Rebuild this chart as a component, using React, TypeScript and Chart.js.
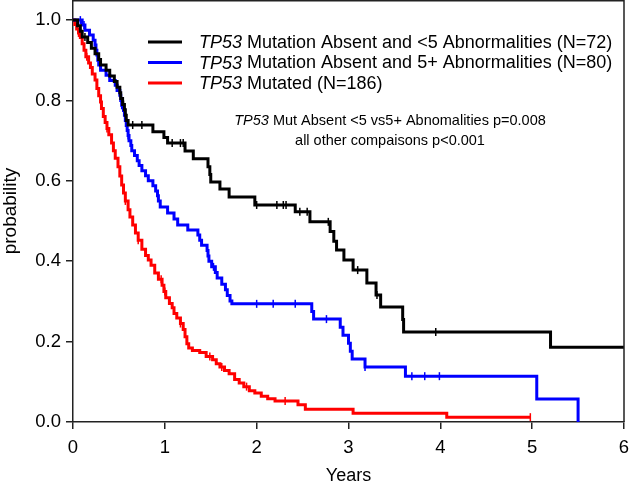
import React, { useEffect, useRef } from "react";
import { Chart, registerables } from "chart.js";
Chart.register(...registerables);

// ---- data ----
const xTicks = [0, 1, 2, 3, 4, 5, 6];
const yTicks = [0, 0.2, 0.4, 0.6, 0.8, 1.0];

const seriesLabels = [
  " Mutation Absent and <5 Abnormalities (N=72)",
  " Mutation Absent and 5+ Abnormalities (N=80)",
  " Mutated (N=186)",
];
const seriesColors = ["#000000", "#0000ff", "#ff0000"];

const blackT = [0, 0.05, 0.08, 0.1, 0.16, 0.2, 0.24, 0.28, 0.3, 0.36, 0.4, 0.45, 0.48, 0.51, 0.52, 0.54, 0.56, 0.57, 0.58, 0.6, 0.87, 0.99, 1.03, 1.22, 1.31, 1.47, 1.49, 1.5, 1.6, 1.7, 1.98, 2.42, 2.58, 2.8, 2.84, 2.87, 2.95, 3.05, 3.2, 3.3, 3.35, 3.59, 3.6, 5.2, 6.0];
const blackS = [1.0, 0.986, 0.972, 0.958, 0.944, 0.93, 0.916, 0.902, 0.888, 0.875, 0.861, 0.847, 0.833, 0.819, 0.805, 0.79, 0.777, 0.763, 0.75, 0.739, 0.722, 0.708, 0.694, 0.674, 0.655, 0.635, 0.616, 0.597, 0.58, 0.56, 0.54, 0.523, 0.498, 0.474, 0.45, 0.428, 0.403, 0.378, 0.346, 0.316, 0.286, 0.255, 0.224, 0.186, 0.186];
const blackCensor = [0.13, 0.55, 0.65, 0.75, 1.08, 1.17, 1.2, 2.0, 2.22, 2.29, 2.32, 2.47, 2.55, 2.78, 3.1, 3.31, 3.95];

const blueT = [0, 0.1, 0.13, 0.18, 0.22, 0.24, 0.25, 0.26, 0.27, 0.28, 0.3, 0.36, 0.4, 0.46, 0.48, 0.51, 0.52, 0.53, 0.55, 0.56, 0.57, 0.58, 0.59, 0.6, 0.61, 0.63, 0.64, 0.67, 0.7, 0.72, 0.75, 0.79, 0.82, 0.87, 0.9, 0.92, 0.93, 0.95, 1.03, 1.1, 1.14, 1.25, 1.36, 1.38, 1.4, 1.46, 1.47, 1.48, 1.51, 1.55, 1.57, 1.62, 1.66, 1.68, 1.71, 1.73, 2.6, 2.62, 2.91, 2.94, 3.0, 3.02, 3.04, 3.18, 3.62, 5.05, 5.5];
const blueS = [1.0, 0.988, 0.975, 0.963, 0.95, 0.938, 0.925, 0.913, 0.9, 0.888, 0.875, 0.863, 0.85, 0.838, 0.825, 0.813, 0.8, 0.788, 0.775, 0.763, 0.75, 0.738, 0.725, 0.713, 0.7, 0.688, 0.675, 0.663, 0.65, 0.638, 0.625, 0.613, 0.6, 0.588, 0.575, 0.563, 0.55, 0.535, 0.52, 0.505, 0.49, 0.478, 0.465, 0.452, 0.44, 0.427, 0.413, 0.4, 0.386, 0.372, 0.358, 0.343, 0.329, 0.315, 0.301, 0.294, 0.275, 0.256, 0.236, 0.216, 0.196, 0.176, 0.157, 0.137, 0.114, 0.057, 0.0];
const blueCensor = [0.08, 0.12, 0.53, 0.6, 1.53, 2.0, 2.18, 2.42, 2.76, 3.18, 3.69, 3.83, 3.99];

const redT = [0, 0.02, 0.04, 0.06, 0.08, 0.1, 0.12, 0.14, 0.17, 0.19, 0.21, 0.24, 0.26, 0.28, 0.3, 0.31, 0.33, 0.35, 0.37, 0.39, 0.42, 0.44, 0.46, 0.49, 0.51, 0.53, 0.55, 0.57, 0.6, 0.62, 0.65, 0.68, 0.71, 0.75, 0.79, 0.82, 0.85, 0.89, 0.93, 0.97, 0.99, 1.01, 1.05, 1.08, 1.1, 1.13, 1.17, 1.2, 1.22, 1.24, 1.26, 1.3, 1.38, 1.45, 1.52, 1.56, 1.6, 1.65, 1.7, 1.76, 1.81, 1.86, 1.92, 1.98, 2.05, 2.12, 2.2, 2.45, 2.53, 3.05, 4.07, 4.98];
const redS = [1.0, 0.989, 0.978, 0.968, 0.957, 0.941, 0.925, 0.909, 0.893, 0.882, 0.866, 0.851, 0.83, 0.812, 0.796, 0.78, 0.76, 0.745, 0.73, 0.715, 0.694, 0.675, 0.656, 0.635, 0.612, 0.59, 0.57, 0.55, 0.528, 0.51, 0.49, 0.47, 0.452, 0.43, 0.414, 0.403, 0.39, 0.371, 0.355, 0.34, 0.325, 0.309, 0.295, 0.284, 0.27, 0.259, 0.245, 0.23, 0.212, 0.195, 0.184, 0.178, 0.173, 0.163, 0.155, 0.145, 0.137, 0.128, 0.12, 0.106, 0.097, 0.088, 0.078, 0.072, 0.064, 0.058, 0.052, 0.043, 0.032, 0.022, 0.012, 0.012];
const redCensor = [0.06, 0.15, 0.37, 0.57, 0.71, 0.96, 1.0, 1.17, 1.49, 1.62, 1.89, 2.31, 4.98];

const annotationLine1 = " Mut Absent <5 vs5+ Abnomalities p=0.008";
const annotationLine2 = "all other compaisons p<0.001";

const FONT = "'Liberation Sans', Arial, Helvetica, sans-serif";

function stepAt(ts: number[], ss: number[], t: number) {
  let v = ss[0];
  for (let i = 0; i < ts.length; i++) if (ts[i] <= t) v = ss[i];
  return v;
}

export default function App() {
  const ref = useRef<HTMLCanvasElement>(null);
  useEffect(() => {
    if (!ref.current) return;
    const curve = (ts: number[], ss: number[], color: string) => ({
      type: "line" as const,
      data: ts.map((t, i) => ({ x: t, y: ss[i] })),
      borderColor: color,
      borderWidth: 3,
      stepped: "before" as const,
      pointRadius: 0,
      fill: false,
      tension: 0,
      borderJoinStyle: "miter" as const,
    });
    const cens = (cs: number[], ts: number[], ss: number[], color: string) => ({
      type: "scatter" as const,
      data: cs.map((c) => ({ x: c, y: stepAt(ts, ss, c) })),
      showLine: false,
      pointStyle: "line" as const,
      pointRotation: 90,
      pointRadius: 4,
      pointBorderColor: color,
      pointBorderWidth: 1.5,
      pointBackgroundColor: color,
    });

    const overlay = {
      id: "overlay",
      afterDraw(chart: any) {
        const { ctx, chartArea } = chart;
        ctx.save();
        // frame top and right
        ctx.strokeStyle = "#222";
        ctx.lineWidth = 1.5;
        ctx.beginPath();
        ctx.moveTo(chartArea.left, chartArea.top + 0.75);
        ctx.lineTo(chartArea.right, chartArea.top + 0.75);
        ctx.lineTo(chartArea.right, chartArea.bottom);
        ctx.stroke();
        // legend
        const ys = [42, 62.5, 83];
        ctx.textBaseline = "middle";
        ctx.textAlign = "left";
        for (let i = 0; i < 3; i++) {
          ctx.strokeStyle = seriesColors[i];
          ctx.lineWidth = 3;
          ctx.beginPath();
          ctx.moveTo(148, ys[i]);
          ctx.lineTo(182, ys[i]);
          ctx.stroke();
          ctx.fillStyle = "#000";
          ctx.font = `italic 18px ${FONT}`;
          ctx.fillText("TP53", 199, ys[i] + 1);
          const w = ctx.measureText("TP53").width;
          ctx.font = `18px ${FONT}`;
          ctx.fillText(seriesLabels[i], 199 + w, ys[i] + 1);
        }
        // annotation
        const cx = 390;
        const fs = 14.5;
        ctx.font = `italic ${fs}px ${FONT}`;
        const wi = ctx.measureText("TP53").width;
        ctx.font = `${fs}px ${FONT}`;
        const wr = ctx.measureText(annotationLine1).width;
        const x0 = cx - (wi + wr) / 2;
        ctx.font = `italic ${fs}px ${FONT}`;
        ctx.fillText("TP53", x0, 121);
        ctx.font = `${fs}px ${FONT}`;
        ctx.fillText(annotationLine1, x0 + wi, 121);
        ctx.textAlign = "center";
        ctx.fillText(annotationLine2, cx, 141);
        ctx.restore();
      },
    };

    const chart = new Chart(ref.current, {
      type: "line",
      data: {
        datasets: [
          curve(blackT, blackS, seriesColors[0]),
          curve(blueT, blueS, seriesColors[1]),
          curve(redT, redS, seriesColors[2]),
          cens(blackCensor, blackT, blackS, seriesColors[0]),
          cens(blueCensor, blueT, blueS, seriesColors[1]),
          cens(redCensor, redT, redS, seriesColors[2]),
        ] as any,
      },
      options: {
        animation: false,
        responsive: false,
        events: [],
        layout: { autoPadding: false, padding: { left: 0, right: 6, top: 0, bottom: 0 } },
        plugins: { legend: { display: false }, tooltip: { enabled: false } },
        scales: {
          x: {
            type: "linear",
            min: 0,
            max: 6,
            afterFit: (s: any) => {
              s.height = 63;
              s.paddingLeft = 0;
              s.paddingRight = 0;
            },
            afterBuildTicks: (s: any) => {
              s.ticks = xTicks.map((v) => ({ value: v }));
            },
            ticks: {
              color: "#000",
              font: { family: FONT, size: 18.5 },
              padding: 8,
              callback: (v: any) => String(v),
            },
            grid: { display: true, drawOnChartArea: false, drawTicks: true, tickLength: 7, color: "#222", lineWidth: 1.5 },
            border: { display: true, color: "#222", width: 1.5 },
            title: { display: true, text: "Years", color: "#000", font: { family: FONT, size: 18, lineHeight: 1 }, padding: { top: 0, bottom: 0 } },
          },
          y: {
            type: "linear",
            min: 0,
            max: 1.05,
            afterFit: (s: any) => {
              s.width = 73;
              s.paddingTop = 0;
              s.paddingBottom = 0;
            },
            afterBuildTicks: (s: any) => {
              s.ticks = yTicks.map((v) => ({ value: v }));
            },
            ticks: {
              color: "#000",
              font: { family: FONT, size: 18.5 },
              padding: 5,
              callback: (v: any) => Number(v).toFixed(1),
            },
            grid: { display: true, drawOnChartArea: false, drawTicks: true, tickLength: 7, color: "#222", lineWidth: 1.5 },
            border: { display: true, color: "#222", width: 1.5 },
            title: { display: true, text: "probability", color: "#000", font: { family: FONT, size: 19, lineHeight: 1 }, padding: { top: 1, bottom: 0 } },
          },
        },
      },
      plugins: [overlay],
    });
    return () => chart.destroy();
  }, []);
  return (
    <div style={{ position: "absolute", left: 0, top: 0, width: 630, height: 485, background: "#fff" }}>
      <canvas ref={ref} width={630} height={485} style={{ display: "block" }} />
    </div>
  );
}
